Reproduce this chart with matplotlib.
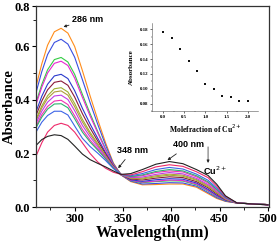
import matplotlib
matplotlib.use("Agg")
import matplotlib.pyplot as plt
from matplotlib.ticker import MultipleLocator, FixedLocator

wavelength = [260, 266, 272, 279, 286, 293, 300, 308, 316, 324, 332, 340, 348,
              358, 370, 384, 398, 412, 426, 438, 447, 456, 468, 500]

spectra = [
    [0.450, 0.535, 0.605, 0.655, 0.668, 0.650, 0.600, 0.510, 0.415, 0.325, 0.240, 0.165, 0.120,
     0.095, 0.083, 0.084, 0.086, 0.086, 0.074, 0.050, 0.032, 0.021, 0.015, 0.009],
    [0.427, 0.506, 0.570, 0.615, 0.627, 0.609, 0.560, 0.476, 0.390, 0.308, 0.231, 0.162, 0.120,
     0.097, 0.086, 0.088, 0.091, 0.090, 0.078, 0.054, 0.035, 0.022, 0.015, 0.009],
    [0.390, 0.458, 0.513, 0.551, 0.559, 0.542, 0.496, 0.421, 0.349, 0.281, 0.217, 0.158, 0.121,
     0.099, 0.091, 0.095, 0.098, 0.097, 0.083, 0.060, 0.039, 0.024, 0.015, 0.009],
    [0.383, 0.448, 0.501, 0.537, 0.545, 0.529, 0.482, 0.410, 0.340, 0.276, 0.214, 0.157, 0.121,
     0.100, 0.093, 0.097, 0.101, 0.099, 0.086, 0.062, 0.041, 0.025, 0.015, 0.009],
    [0.356, 0.414, 0.459, 0.490, 0.496, 0.480, 0.435, 0.369, 0.310, 0.256, 0.203, 0.153, 0.121,
     0.102, 0.096, 0.102, 0.106, 0.104, 0.090, 0.066, 0.044, 0.026, 0.015, 0.009],
    [0.342, 0.396, 0.438, 0.466, 0.471, 0.455, 0.411, 0.349, 0.295, 0.246, 0.198, 0.152, 0.121,
     0.105, 0.101, 0.108, 0.113, 0.110, 0.095, 0.072, 0.049, 0.028, 0.015, 0.009],
    [0.328, 0.378, 0.416, 0.442, 0.446, 0.430, 0.387, 0.328, 0.279, 0.236, 0.192, 0.150, 0.121,
     0.107, 0.105, 0.113, 0.119, 0.115, 0.100, 0.076, 0.053, 0.029, 0.015, 0.009],
    [0.322, 0.370, 0.406, 0.430, 0.434, 0.418, 0.375, 0.318, 0.272, 0.231, 0.190, 0.149, 0.121,
     0.108, 0.108, 0.117, 0.123, 0.119, 0.103, 0.080, 0.055, 0.030, 0.015, 0.009],
    [0.313, 0.358, 0.392, 0.415, 0.418, 0.402, 0.360, 0.305, 0.262, 0.225, 0.186, 0.148, 0.121,
     0.110, 0.112, 0.122, 0.129, 0.124, 0.107, 0.084, 0.059, 0.032, 0.015, 0.009],
    [0.302, 0.345, 0.376, 0.396, 0.399, 0.383, 0.341, 0.290, 0.250, 0.217, 0.182, 0.147, 0.122,
     0.113, 0.117, 0.129, 0.135, 0.131, 0.113, 0.090, 0.063, 0.033, 0.015, 0.009],
    [0.296, 0.336, 0.366, 0.385, 0.386, 0.371, 0.330, 0.280, 0.243, 0.212, 0.180, 0.146, 0.122,
     0.114, 0.120, 0.133, 0.140, 0.135, 0.117, 0.094, 0.066, 0.035, 0.015, 0.009],
    [0.280, 0.317, 0.342, 0.358, 0.358, 0.344, 0.303, 0.257, 0.226, 0.201, 0.174, 0.144, 0.122,
     0.117, 0.125, 0.140, 0.148, 0.142, 0.123, 0.100, 0.071, 0.037, 0.015, 0.008],
    [0.190, 0.240, 0.280, 0.305, 0.313, 0.305, 0.280, 0.240, 0.200, 0.168, 0.145, 0.130, 0.122,
     0.120, 0.132, 0.150, 0.158, 0.152, 0.132, 0.110, 0.078, 0.040, 0.015, 0.008],
    [0.230, 0.252, 0.264, 0.270, 0.267, 0.253, 0.228, 0.198, 0.177, 0.163, 0.150, 0.135, 0.122,
     0.125, 0.140, 0.160, 0.170, 0.162, 0.140, 0.118, 0.085, 0.042, 0.015, 0.008],
]

colors = ['#FF8C1A', '#3A4FE0', '#33CC44', '#E826D0', '#2A3ACC', '#8B1A3A', '#9DB031',
          '#B09A3C', '#C03CE8', '#F030B0', '#2DB36E', '#3C64E6', '#EE2A6A', '#222222']

mole_fraction = [0.0, 0.2, 0.4, 0.6, 0.8, 1.0, 1.2, 1.4, 1.6, 1.8, 2.0]
inset_abs = [0.177, 0.168, 0.153, 0.137, 0.124, 0.107, 0.100, 0.090, 0.089, 0.083, 0.084]

y_ticks = [0.0, 0.2, 0.4, 0.6, 0.75]
y_ticklabels = ['0.0', '0.2', '0.4', '0.6', '0.8']
x_ticks = [300, 350, 400, 450, 500]
inset_xticks = [0.0, 0.5, 1.0, 1.5, 2.0]
inset_yticks = [0.08, 0.10, 0.12, 0.14, 0.16, 0.18]

serif = ['Liberation Serif', 'DejaVu Serif']
sans = ['Liberation Sans', 'DejaVu Sans']

fig = plt.figure(figsize=(2.79, 2.43), dpi=100)
ax = fig.add_axes([0.129, 0.148, 0.835, 0.827])
for ys, c in zip(spectra, colors):
    ax.plot(wavelength, ys, color=c, lw=0.8)

ax.set_xlim(260, 501)
ax.set_ylim(0, 0.751)
ax.set_xticks(x_ticks)
ax.xaxis.set_minor_locator(MultipleLocator(25))
ax.yaxis.set_major_locator(FixedLocator(y_ticks))
ax.set_yticklabels(y_ticklabels)
ax.yaxis.set_minor_locator(FixedLocator([0.1, 0.3, 0.5, 0.7]))
ax.tick_params(which='major', direction='out', length=3, width=0.8, labelsize=9, pad=1.5)
ax.tick_params(which='minor', direction='out', length=2, width=0.6)
for lab in ax.get_xticklabels() + ax.get_yticklabels():
    lab.set_fontfamily(serif)
    lab.set_fontweight('bold')
for sp in ax.spines.values():
    sp.set_linewidth(0.9)
    sp.set_color('#333333')
ax.set_xlabel('Wavelength(nm)', fontfamily=serif, fontweight='bold', fontsize=11.5, labelpad=0)
ax.set_ylabel('Absorbance', fontfamily=serif, fontweight='bold', fontsize=10.5)
ax.yaxis.set_label_coords(-0.088, 0.5)

# annotations
ax.annotate('286 nm', xy=(287, 0.672), xytext=(297, 0.70), fontsize=6.5, fontweight='bold',
            fontfamily=sans, ha='left', va='center',
            arrowprops=dict(arrowstyle='-|>', lw=0.6, color='#222222', mutation_scale=4,
                            shrinkA=0, shrinkB=1))
ax.annotate('348 nm', xy=(345, 0.145), xytext=(344, 0.213), fontsize=6.5, fontweight='bold',
            fontfamily=sans, ha='left', va='center',
            arrowprops=dict(arrowstyle='-|>', lw=0.6, color='#222222', mutation_scale=4,
                            shrinkA=2, shrinkB=0))
ax.annotate('400 nm', xy=(396, 0.175), xytext=(402, 0.232), fontsize=6.5, fontweight='bold',
            fontfamily=sans, ha='left', va='center',
            arrowprops=dict(arrowstyle='-|>', lw=0.6, color='#222222', mutation_scale=4,
                            shrinkA=2, shrinkB=0))
ax.annotate('', xy=(438, 0.165), xytext=(438, 0.225),
            arrowprops=dict(arrowstyle='-|>', lw=0.5, color='#222222', mutation_scale=4,
                            shrinkA=0, shrinkB=0))
ax.text(433, 0.135, 'Cu$^{2+}$', fontsize=6.5, fontweight='bold', fontfamily=sans,
        ha='left', va='center')

# inset
ins = fig.add_axes([0.545, 0.543, 0.380, 0.362])
ins.scatter(mole_fraction, inset_abs, s=3.5, marker='s', color='#111111', lw=0)
ins.set_xlim(-0.26, 2.24)
ins.set_ylim(0.070, 0.1885)
ins.set_xticks(inset_xticks)
ins.set_yticks(inset_yticks)
ins.xaxis.set_minor_locator(MultipleLocator(0.25))
ins.yaxis.set_minor_locator(MultipleLocator(0.01))
ins.set_xticklabels(['0.0', '0.5', '1.0', '1.5', '2.0'])
ins.set_yticklabels(['0.08', '0.10', '0.12', '0.14', '0.16', '0.18'])
ins.tick_params(which='major', direction='out', length=1.5, width=0.4, labelsize=3.5, pad=1)
ins.tick_params(which='minor', direction='out', length=1, width=0.3)
for lab in ins.get_xticklabels() + ins.get_yticklabels():
    lab.set_fontfamily(serif)
    lab.set_fontweight('bold')
for s in ['top', 'right']:
    ins.spines[s].set_visible(False)
for s in ['left', 'bottom']:
    ins.spines[s].set_linewidth(0.4)
    ins.spines[s].set_color('#555555')
ins.patch.set_alpha(0)
ins.set_xlabel('Molefraction of Cu$^{2+}$', fontfamily=serif, fontweight='bold', fontsize=5.5,
               labelpad=3)
ins.set_ylabel('Absorbance', fontfamily=serif, fontweight='bold', fontsize=5, labelpad=4)

fig.savefig('out.png', dpi=100)
